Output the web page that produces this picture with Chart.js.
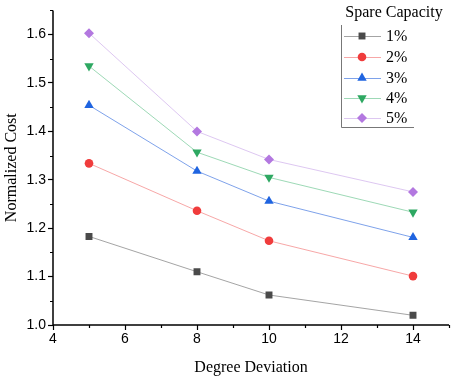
<!DOCTYPE html>
<html>
<head>
<meta charset="utf-8">
<script src="https://cdn.jsdelivr.net/npm/chart.js@4/dist/chart.umd.min.js"></script>
<style>
html,body{margin:0;padding:0;background:#fff;}
#wrap{width:457px;height:383px;}
</style>
</head>
<body>
<div id="wrap"><canvas id="c" width="457" height="383"></canvas></div>
<script>
const degreeDeviation = [5, 8, 10, 14];
const cap1 = [1.183, 1.110, 1.062, 1.020];
const cap2 = [1.334, 1.236, 1.174, 1.101];
const cap3 = [1.454, 1.318, 1.256, 1.181];
const cap4 = [1.535, 1.357, 1.305, 1.233];
const cap5 = [1.603, 1.400, 1.342, 1.275];
const seriesLabels = ['1%', '2%', '3%', '4%', '5%'];
const xTickValues = [4, 6, 8, 10, 12, 14];
const xMinorValues = [5, 7, 9, 11, 13, 15];
const yTickValues = [1.0, 1.1, 1.2, 1.3, 1.4, 1.5, 1.6];
const yMinorValues = [1.05, 1.15, 1.25, 1.35, 1.45, 1.55, 1.65];
const legendTitle = 'Spare Capacity';

const styles = [
  {c:'#4a4a4a', l:'rgba(90,90,90,0.55)', p:'rect', rot:0, r:4.9},
  {c:'#f03c3c', l:'rgba(240,80,80,0.5)', p:'circle', rot:0, r:4.3},
  {c:'#1f64e0', l:'rgba(40,100,220,0.6)', p:'triangle', rot:0, r:5.4},
  {c:'#2ea862', l:'rgba(60,180,110,0.5)', p:'triangle', rot:180, r:5.4},
  {c:'#b378e0', l:'rgba(180,130,225,0.45)', p:'rectRot', rot:0, r:5.0}
];
const seriesData = [cap1, cap2, cap3, cap4, cap5];

const datasets = seriesData.map((arr, i) => ({
  label: seriesLabels[i],
  data: arr.map((v, j) => ({x: degreeDeviation[j], y: v})),
  borderColor: styles[i].l,
  backgroundColor: styles[i].c,
  pointBackgroundColor: styles[i].c,
  pointBorderColor: styles[i].c,
  pointStyle: styles[i].p,
  rotation: styles[i].rot,
  pointRadius: styles[i].r,
  pointBorderWidth: 0,
  borderWidth: 1,
  showLine: true,
  tension: 0
}));

const minorTicks = {
  id: 'minorTicks',
  afterDraw(chart) {
    const ctx = chart.ctx;
    const xs = chart.scales.x, ys = chart.scales.y;
    ctx.save();
    ctx.strokeStyle = '#000';
    ctx.lineWidth = 1.2;
    ctx.beginPath();
    xMinorValues.forEach(v => {
      const px = Math.round(xs.getPixelForValue(v)) + 0.5;
      ctx.moveTo(px, ys.bottom); ctx.lineTo(px, ys.bottom + 3);
    });
    yMinorValues.forEach(v => {
      const py = Math.round(ys.getPixelForValue(v)) + 0.5;
      ctx.moveTo(xs.left, py); ctx.lineTo(xs.left - 3, py);
    });
    ctx.stroke();
    ctx.lineWidth = 1.5;
    ctx.beginPath();
    ctx.moveTo(xs.left, ys.top); ctx.lineTo(xs.left, ys.bottom + 0.75);
    ctx.moveTo(xs.left - 0.75, ys.bottom); ctx.lineTo(xs.right, ys.bottom);
    ctx.stroke();

    // legend
    ctx.fillStyle = '#000';
    ctx.font = '16px "Liberation Serif", "Times New Roman", serif';
    ctx.textAlign = 'center';
    ctx.textBaseline = 'middle';
    ctx.fillText(legendTitle, 394, 13);
    ctx.strokeStyle = '#777';
    ctx.lineWidth = 1;
    ctx.beginPath();
    ctx.moveTo(341.5, 25); ctx.lineTo(341.5, 127.5); ctx.lineTo(414, 127.5);
    ctx.stroke();
    const rowsY = [36, 57, 78, 98, 118];
    chart.data.datasets.forEach((ds, i) => {
      const y = rowsY[i];
      ctx.strokeStyle = ds.borderColor;
      ctx.lineWidth = 1;
      ctx.beginPath();
      ctx.moveTo(344, y + 0.5); ctx.lineTo(381, y + 0.5);
      ctx.stroke();
      ctx.fillStyle = ds.pointBackgroundColor;
      ctx.strokeStyle = ds.pointBorderColor;
      Chart.helpers.drawPoint(ctx, {pointStyle: ds.pointStyle, rotation: ds.rotation, radius: ds.pointRadius, borderWidth: 0}, 362, y);
      ctx.fillStyle = '#000';
      ctx.textAlign = 'left';
      ctx.fillText(ds.label, 386, y + 1);
    });
    ctx.restore();
  }
};

new Chart(document.getElementById('c'), {
  type: 'scatter',
  data: {datasets},
  options: {
    responsive: false,
    animation: false,
    layout: {padding: {top: 6, right: 8, left: 0, bottom: 0}},
    plugins: {legend: {display: false}, tooltip: {enabled: false}},
    scales: {
      x: {
        type: 'linear', min: 4, max: 15,
        afterBuildTicks: s => { s.ticks = xTickValues.map(v => ({value: v})); },
        afterFit: s => { s.height = 58; },
        border: {display: false},
        grid: {drawOnChartArea: false, tickLength: 5, tickWidth: 1.2, tickColor: '#000'},
        ticks: {color: '#000', font: {family: '"Liberation Sans", Arial, sans-serif', size: 14}, padding: 1, maxRotation: 0},
        title: {display: true, text: 'Degree Deviation', color: '#000', font: {family: '"Liberation Serif", "Times New Roman", serif', size: 16}, padding: {top: 5, bottom: 6}}
      },
      y: {
        type: 'linear', min: 1.0, max: 1.65,
        afterBuildTicks: s => { s.ticks = yTickValues.map(v => ({value: v})); },
        afterFit: s => { s.width = 53; },
        border: {display: false},
        grid: {drawOnChartArea: false, tickLength: 5, tickWidth: 1.2, tickColor: '#000'},
        ticks: {color: '#000', font: {family: '"Liberation Sans", Arial, sans-serif', size: 14}, padding: 2, callback: v => Number(v).toFixed(1)},
        title: {display: true, text: 'Normalized Cost', color: '#000', font: {family: '"Liberation Serif", "Times New Roman", serif', size: 16}, padding: {top: 2, bottom: 2}}
      }
    }
  },
  plugins: [minorTicks]
});
</script>
</body>
</html>
